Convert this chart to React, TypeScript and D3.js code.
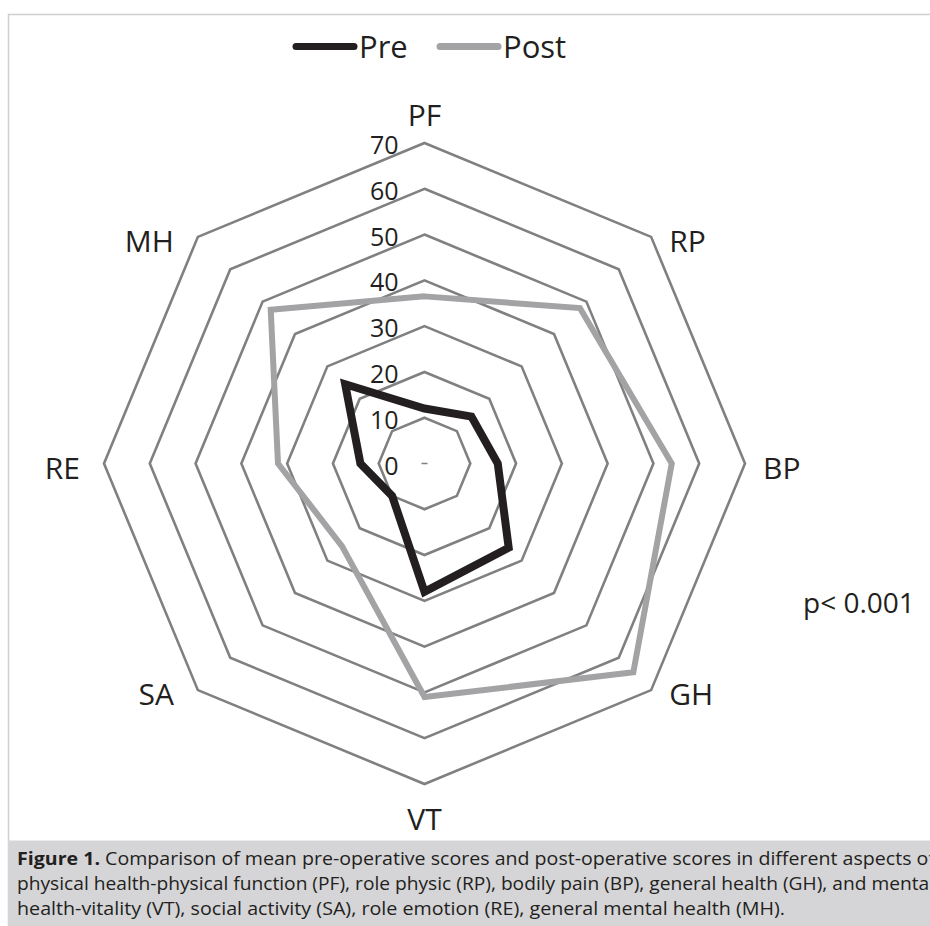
import React, { useEffect, useRef } from "react";
import * as d3 from "d3";

// SF-36 domains, clockwise from the top
const categories = ["PF", "RP", "BP", "GH", "VT", "SA", "RE", "MH"];
const preScores = [12, 14.5, 16, 26, 28, 10, 14, 24.5];
const postScores = [36.5, 48, 54, 64.5, 51, 25.5, 32, 47.5];
const ringTicks = [0, 10, 20, 30, 40, 50, 60, 70];
const seriesNames = ["Pre", "Post"];
const pValueText = "p< 0.001";
const captionBold = "Figure 1.";
const captionLines = [
  " Comparison of mean pre-operative scores and post-operative scores in different aspects of",
  "physical health-physical function (PF), role physic (RP), bodily pain (BP), general health (GH), and mental",
  "health-vitality (VT), social activity (SA), role emotion (RE), general mental health (MH).",
];

const width = 930;
const height = 926;
const font = "'Open Sans', 'Noto Sans', sans-serif";

const App = () => {
  const svgRef = useRef(null);

  useEffect(() => {
    const svg = d3.select(svgRef.current);
    svg.selectAll("*").remove();

    const cx = 424.5;
    const cy = 463.5;
    const r = d3.scaleLinear().domain([0, 70]).range([0, 320.5]);
    const step = (2 * Math.PI) / categories.length;
    const angle = d3
      .scalePoint()
      .domain(categories)
      .range([0, 2 * Math.PI - step]);
    const ang = (i) => angle(categories[i]);

    // frame
    svg.append("rect").attr("width", width).attr("height", height).attr("fill", "#fff");
    svg
      .append("path")
      .attr("d", `M8.5,${height} L8.5,14.5 L${width},14.5`)
      .attr("fill", "none")
      .attr("stroke", "#cfcfcf")
      .attr("stroke-width", 1.5);

    const g = svg.append("g").attr("transform", `translate(${cx},${cy})`);

    // rings
    const ring = d3
      .lineRadial()
      .angle((d, i) => ang(i))
      .radius((d) => r(d))
      .curve(d3.curveLinearClosed);

    ringTicks
      .filter((t) => t > 0)
      .forEach((t) => {
        g.append("path")
          .attr("d", ring(categories.map(() => t)))
          .attr("fill", "none")
          .attr("stroke", "#808080")
          .attr("stroke-width", 2.6)
          .attr("stroke-linejoin", "miter");
      });

    // center tick
    g.append("line")
      .attr("x1", -3)
      .attr("x2", 3)
      .attr("y1", -r(0))
      .attr("y2", -r(0))
      .attr("stroke", "#808080")
      .attr("stroke-width", 1.5);

    // series
    const series = [
      { name: seriesNames[0], values: preScores, color: "#231f20", w: 8 },
      { name: seriesNames[1], values: postScores, color: "#a3a3a6", w: 6 },
    ];

    series.forEach((s) => {
      g.append("path")
        .attr("d", ring(s.values))
        .attr("fill", "none")
        .attr("stroke", s.color)
        .attr("stroke-width", s.w)
        .attr("stroke-linejoin", "miter");
    });

    // radial tick labels
    g.selectAll(".tick-label")
      .data(ringTicks)
      .enter()
      .append("text")
      .attr("x", -26)
      .attr("y", (d) => -r(d) + 11)
      .attr("text-anchor", "end")
      .style("font-family", font)
      .style("font-size", "25px")
      .style("fill", "#231f20")
      .text((d) => d);

    // category labels
    categories.forEach((c, i) => {
      const a = ang(i);
      const s = Math.sin(a);
      const co = Math.cos(a);
      const vx = r(70) * s;
      const vy = -r(70) * co;
      let x = vx;
      let y = vy + 15;
      let anchor = "middle";
      if (s > 0.01) {
        x = vx + 18;
        anchor = "start";
      } else if (s < -0.01) {
        x = vx - 24;
        anchor = "end";
      } else if (co > 0) {
        y = vy - 17;
      } else {
        y = vy + 46;
      }
      g.append("text")
        .attr("x", x)
        .attr("y", y)
        .attr("text-anchor", anchor)
        .style("font-family", font)
        .style("font-size", "30px")
        .style("fill", "#231f20")
        .text(c);
    });

    // legend
    const legendX = d3.scaleOrdinal().domain(seriesNames).range([293, 437]);
    series.forEach((s) => {
      const x0 = legendX(s.name);
      svg
        .append("line")
        .attr("x1", x0 + 3)
        .attr("x2", x0 + 61)
        .attr("y1", 46.5)
        .attr("y2", 46.5)
        .attr("stroke", s.color)
        .attr("stroke-width", 7)
        .attr("stroke-linecap", "round");
      svg
        .append("text")
        .attr("x", x0 + 66)
        .attr("y", 58)
        .style("font-family", font)
        .style("font-size", "31px")
        .style("fill", "#231f20")
        .text(s.name);
    });

    // p value
    svg
      .append("text")
      .attr("x", 803)
      .attr("y", 613)
      .style("font-family", font)
      .style("font-size", "28px")
      .style("fill", "#231f20")
      .text(pValueText);

    // caption box
    svg
      .append("rect")
      .attr("x", 8)
      .attr("y", 840.5)
      .attr("width", width - 8)
      .attr("height", height - 840.5)
      .attr("fill", "#d5d5d7");

    const lineLengths = [918, 917, 768];
    captionLines.forEach((line, i) => {
      const t = svg
        .append("text")
        .attr("x", 17)
        .attr("y", 865 + i * 25)
        .attr("textLength", lineLengths[i])
        .attr("lengthAdjust", "spacingAndGlyphs")
        .style("font-family", font)
        .style("font-size", "18px")
        .style("fill", "#231f20");
      if (i === 0) {
        t.append("tspan").style("font-weight", "bold").text(captionBold);
      }
      t.append("tspan").text(line);
    });
  }, []);

  return (
    <svg
      ref={svgRef}
      width={width}
      height={height}
      style={{ position: "absolute", left: 0, top: 0 }}
    ></svg>
  );
};

export default App;
